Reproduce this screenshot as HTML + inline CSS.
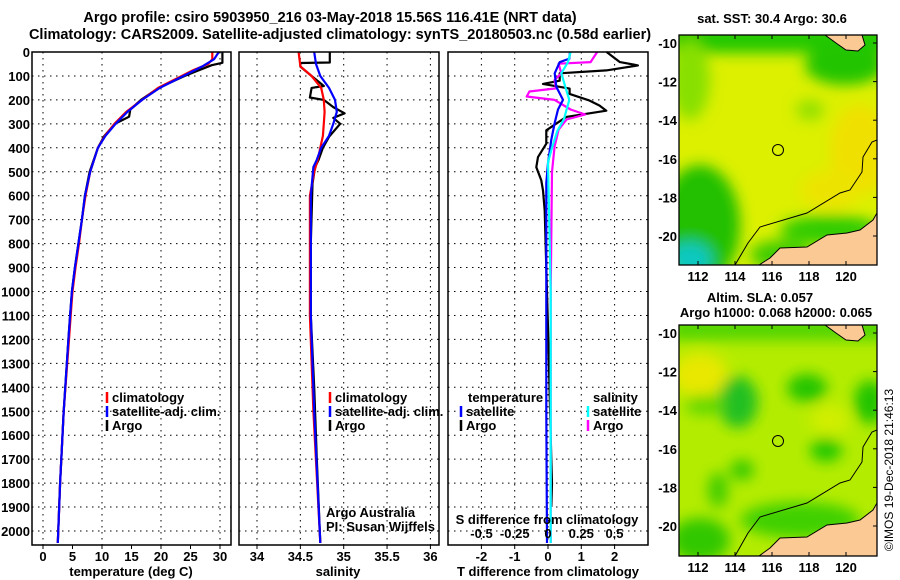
<!DOCTYPE html>
<html><head><meta charset="utf-8">
<style>
html,body{margin:0;padding:0;background:#fff;}
svg{display:block;font-family:"Liberation Sans",Arial,sans-serif;}
.t{font-weight:bold;font-size:13px;fill:#000;}
.tt{font-weight:bold;font-size:14.5px;fill:#000;}
.grid{stroke:#000;stroke-width:1;stroke-dasharray:1.5,4.5;}
</style></head><body>
<svg id="chart" width="900" height="580" viewBox="0 0 900 580" xmlns="http://www.w3.org/2000/svg">
<defs>
<filter id="blur6"><feGaussianBlur stdDeviation="7"/></filter>
<filter id="blur4"><feGaussianBlur stdDeviation="4"/></filter>
<clipPath id="clipTop"><rect x="679" y="35" width="198" height="230"/></clipPath>
<clipPath id="clipBot"><rect x="679" y="325" width="198" height="231"/></clipPath>
</defs>
<text class="tt" x="330" y="22" text-anchor="middle">Argo profile: csiro 5903950_216 03-May-2018 15.56S 116.41E (NRT data)</text>
<text class="tt" x="340" y="39" text-anchor="middle">Climatology: CARS2009. Satellite-adjusted climatology: synTS_20180503.nc (0.58d earlier)</text>

<g id="panels"></g>

<!-- top map -->
<g>
 <g clip-path="url(#clipTop)">
  <rect x="679" y="35" width="198" height="230" fill="#dcf000"/>
  <g filter="url(#blur6)">
   <rect x="670" y="25" width="220" height="28" fill="#22c800"/>
   <ellipse cx="845" cy="65" rx="40" ry="20" fill="#20c400"/>
   <ellipse cx="690" cy="80" rx="20" ry="40" fill="#88e000"/>
   <ellipse cx="700" cy="225" rx="40" ry="60" fill="#20c000"/>
   <ellipse cx="690" cy="260" rx="22" ry="18" fill="#10c8c0"/>
   <ellipse cx="860" cy="150" rx="30" ry="45" fill="#f0e000"/>
   <ellipse cx="830" cy="190" rx="30" ry="20" fill="#ece400"/>
   <ellipse cx="810" cy="110" rx="14" ry="10" fill="#90e000"/>
   <ellipse cx="830" cy="230" rx="50" ry="15" fill="#30cc00"/>
   <ellipse cx="780" cy="255" rx="30" ry="15" fill="#40cc00"/>
  </g>
  <polygon points="759,265 770,258 780,248 807,247 827,235 847,233 860,230 873,220 877,213 877,270 759,270" fill="#fbc993" stroke="#000" stroke-width="1"/>
  <polygon points="825,35 862,35 865,45 858,51 846,50 836,43" fill="#fbc993" stroke="#000" stroke-width="1"/>
  <polyline points="735,265 748,243 760,227 807,213 840,193 850,190 862,172 863,157 872,142 877,140" fill="none" stroke="#000" stroke-width="1"/>
 </g>
 <rect x="679" y="35" width="198" height="230" fill="none" stroke="#000" stroke-width="1.3"/>
 <circle cx="778" cy="150" r="5.5" fill="none" stroke="#000" stroke-width="1"/>
 <text class="t" x="772" y="23" text-anchor="middle">sat. SST: 30.4 Argo: 30.6</text>
</g>
<!-- bottom map -->
<g>
 <g clip-path="url(#clipBot)">
  <rect x="679" y="325" width="198" height="231" fill="#b4ec00"/>
  <g filter="url(#blur6)">
   <rect x="670" y="318" width="220" height="22" fill="#50d400"/>
   <ellipse cx="700" cy="375" rx="28" ry="22" fill="#e8e800"/>
   <ellipse cx="738" cy="402" rx="20" ry="26" fill="#20c020"/>
   <ellipse cx="807" cy="388" rx="20" ry="14" fill="#22c400"/>
   <ellipse cx="870" cy="402" rx="16" ry="22" fill="#20c400"/>
   <ellipse cx="826" cy="450" rx="16" ry="12" fill="#22c800"/>
   <ellipse cx="705" cy="405" rx="20" ry="10" fill="#60d800"/>
   <ellipse cx="742" cy="470" rx="12" ry="10" fill="#30c800"/>
   <ellipse cx="718" cy="490" rx="10" ry="18" fill="#40cc00"/>
   <ellipse cx="700" cy="540" rx="30" ry="22" fill="#30c800"/>
   <ellipse cx="800" cy="520" rx="60" ry="18" fill="#40d000"/>
   <ellipse cx="830" cy="420" rx="20" ry="16" fill="#d0ee00"/>
  </g>
  <polygon points="759,556 770,548 780,538 807,537 827,525 847,523 860,520 873,510 877,503 877,560 759,560" fill="#fbc993" stroke="#000" stroke-width="1"/>
  <polygon points="825,325 862,325 865,335 858,341 846,340 836,333" fill="#fbc993" stroke="#000" stroke-width="1"/>
  <polyline points="735,556 748,533 760,517 807,503 840,483 850,480 862,462 863,447 872,432 877,430" fill="none" stroke="#000" stroke-width="1"/>
 </g>
 <rect x="679" y="325" width="198" height="231" fill="none" stroke="#000" stroke-width="1.3"/>
 <circle cx="778" cy="441" r="5.5" fill="none" stroke="#000" stroke-width="1"/>
 <text class="t" x="760" y="302" text-anchor="middle">Altim. SLA: 0.057</text>
 <text class="t" x="776" y="317" text-anchor="middle">Argo h1000: 0.068 h2000: 0.065</text>
</g>
<text x="893" y="470" font-size="12" text-anchor="middle" transform="rotate(-90 893 470)">©IMOS 19-Dec-2018 21:46:13</text>
<g id="maplabels"></g>
</svg>
<script>
// ---- data ----
const depthTicks=[0,100,200,300,400,500,600,700,800,900,1000,1100,1200,1300,1400,1500,1600,1700,1800,1900,2000];
const tempTicks=[0,5,10,15,20,25,30];
const salTicks=[34,34.5,35,35.5,36];
const salTickLabels=["34","34.5","35","35.5","36"];
const tdiffTicks=[-2,-1,0,1,2];
const sdiffTicks=[-0.5,-0.25,0,0.25,0.5];
const sdiffTickLabels=["-0.5","-0.25","0","0.25","0.5"];
const lonTicks=[112,114,116,118,120];
const latTicks=[-10,-12,-14,-16,-18,-20];

const tArgoDepth=[0,45,55,80,100,150,200,240,270,300,350,400,500,600,700,800,900,1000,1100,1200,1500,1800,2050];
const tArgo=[30.4,30.4,28.6,26,24,19.6,16.6,14.8,14.6,12.2,10.4,9.3,7.9,7.1,6.6,6.0,5.4,4.9,4.6,4.3,3.5,2.9,2.5];
const tClimDepth=[0,30,50,75,100,150,200,250,300,350,400,500,600,700,800,900,1000,1100,1200,1500,1800,2050];
const tClim=[28.7,28.7,28,25.5,23.5,19.5,16.8,14.1,12.1,10.5,9.3,8.0,7.2,6.6,6.1,5.5,5.0,4.7,4.4,3.5,2.9,2.5];
const tSatDepth=[0,30,60,100,150,200,250,300,350,400,500,600,700,800,900,1000,1100,1200,1500,1800,2050];
const tSat=[29.8,29,27,23.8,19.8,16.8,14.3,12.3,10.6,9.3,8.0,7.1,6.6,6.0,5.4,4.9,4.6,4.3,3.5,2.9,2.5];

const sArgoDepth=[0,44,46,61,100,142,150,190,200,230,256,275,300,354,400,450,480,550,800,1100,1400,1700,2050];
const sArgo=[34.84,34.84,34.5,34.5,34.63,34.77,34.63,34.61,34.77,34.88,35.01,34.88,34.96,34.83,34.76,34.71,34.67,34.64,34.62,34.62,34.66,34.69,34.73];
const sClimDepth=[0,60,100,150,200,250,300,350,400,450,500,600,1100,1500,2050];
const sClim=[34.48,34.5,34.63,34.74,34.77,34.78,34.77,34.76,34.73,34.7,34.66,34.61,34.61,34.65,34.73];
const sSatDepth=[0,50,100,150,200,250,300,350,400,450,480,600,1100,1500,2050];
const sSat=[34.66,34.68,34.73,34.83,34.9,34.92,34.88,34.83,34.74,34.69,34.65,34.62,34.62,34.66,34.73];

const dTArgoDepth=[0,42,56,77,89,120,133,153,175,203,224,245,271,299,327,383,439,481,536,578,662,900,1150,1700,1800,1900];
const dTArgo=[1.76,2.16,2.7,1.75,0.35,0.35,-0.15,0.65,0.65,1.25,1.55,1.75,0.55,0.25,-0.05,-0.05,-0.3,-0.35,-0.2,-0.15,-0.1,-0.05,0,0.1,0.12,0.1];
const dTSatDepth=[0,28,42,89,145,200,240,296,366,464,547,1000,1500,2050];
const dTSat=[0.66,0.64,0.35,0.2,0.25,0.45,0.3,0.2,0.1,0,-0.05,-0.05,-0.05,-0.03];
const dSArgoDepth=[0,42,49,89,117,152,165,186,200,240,261,282,324,394,500,1000,1500,2050];
const dSArgo=[0.37,0.32,0.08,0.1,0.05,0.06,-0.14,-0.16,0.05,0.17,0.28,0.14,0.08,0.05,0.03,0.02,0.02,0.02];
const dSSatDepth=[0,42,89,145,200,240,280,330,400,460,1000,1500,2050];
const dSSat=[0.17,0.15,0.1,0.13,0.16,0.14,0.12,0.07,0.03,0,0.02,0.02,0.02];

// ---- helpers ----
const NS="http://www.w3.org/2000/svg";
const root=document.getElementById('panels');
function mk(tag,attrs,parent){const e=document.createElementNS(NS,tag);for(const k in attrs)e.setAttribute(k,attrs[k]);(parent||root).appendChild(e);return e;}
function yD(d){return 52+d*0.2395;}
const TOP=52,BOT=545;
function xT(v){return 43+v*5.9;}
function xS(v){return 257+(v-34)*86.7;}
function xdT(v){return 548+v*33.3;}
function xdS(v){return 548+v*133;}

function panel(x0,x1,gridXs,name){
  const g=mk('g',{});
  
  
  depthTicks.slice(1).forEach(d=>{const l=mk('line',{x1:x0,x2:x1,y1:yD(d),y2:yD(d),class:'grid'},g);});
  gridXs.forEach(x=>{mk('line',{x1:x,x2:x,y1:TOP,y2:BOT,class:'grid'},g);});
  return g;
}
function frame(x0,x1,g){mk('rect',{x:x0,y:TOP,width:x1-x0,height:BOT-TOP,fill:'none',stroke:'#000','stroke-width':1.5},g);}
function series(g,depths,vals,fx,color,name){
  const pts=depths.map((d,i)=>fx(vals[i]).toFixed(1)+','+yD(d).toFixed(1)).join(' ');
  const p=mk('polyline',{points:pts,fill:'none',stroke:color,'stroke-width':2.2,'stroke-linejoin':'round'},g);
  
  
}
function text(g,x,y,s,anchor,cls,name,extra){
  const t=mk('text',Object.assign({x:x,y:y,'text-anchor':anchor||'start',class:cls||'t'},extra||{}),g);
  t.textContent=s;
  
  
  return t;
}
function legendItem(g,x,y,color,label,name){
  mk('line',{x1:x,x2:x,y1:y-10,y2:y+1,stroke:color,'stroke-width':2.5},g);
  text(g,x+5,y,label,'start','t',name);
}

// panel 1 temperature
const p1=panel(32,231,[0,10,20,30].map(xT),'temperature-panel');
series(p1,tArgoDepth,tArgo,xT,'#000','temperature-argo-line');
series(p1,tClimDepth,tClim,xT,'#f00','temperature-climatology-line');
series(p1,tSatDepth,tSat,xT,'#00f','temperature-satellite-line');
frame(32,231,p1);
depthTicks.forEach(d=>text(p1,30,yD(d)+5,String(d),'end','t','depth-tick-label'));
tempTicks.forEach(v=>{mk('line',{x1:xT(v),x2:xT(v),y1:BOT,y2:BOT+4,stroke:'#000'},p1);text(p1,xT(v),561,String(v),'middle','t','temperature-tick-label');});
text(p1,131,576,'temperature (deg C)','middle','t','temperature-axis-title');
legendItem(p1,107,402,'#f00','climatology','legend-climatology');
legendItem(p1,107,416,'#00f','satellite-adj. clim.','legend-satellite');
legendItem(p1,107,430,'#000','Argo','legend-argo');

// panel 2 salinity
const p2=panel(239,439,salTicks.map(xS),'salinity-panel');
series(p2,sArgoDepth,sArgo,xS,'#000','salinity-argo-line');
series(p2,sClimDepth,sClim,xS,'#f00','salinity-climatology-line');
series(p2,sSatDepth,sSat,xS,'#00f','salinity-satellite-line');
frame(239,439,p2);
salTicks.forEach((v,i)=>{mk('line',{x1:xS(v),x2:xS(v),y1:BOT,y2:BOT+4,stroke:'#000'},p2);text(p2,xS(v),561,salTickLabels[i],'middle','t','salinity-tick-label');});
text(p2,338,576,'salinity','middle','t','salinity-axis-title');
legendItem(p2,330,402,'#f00','climatology','legend-climatology');
legendItem(p2,330,416,'#00f','satellite-adj. clim.','legend-satellite');
legendItem(p2,330,430,'#000','Argo','legend-argo');
text(p2,326,517,'Argo Australia','start','','argo-australia-credit',{'font-size':12});
text(p2,326,531,'PI: Susan Wijffels','start','','pi-credit',{'font-size':12});

// panel 3 differences
const p3=panel(448,648,tdiffTicks.map(xdT),'difference-panel');
series(p3,dTArgoDepth,dTArgo,xdT,'#000','tdiff-argo-line');
series(p3,dSArgoDepth,dSArgo,xdS,'#f0f','sdiff-argo-line');
series(p3,dTSatDepth,dTSat,xdT,'#00f','tdiff-satellite-line');
series(p3,dSSatDepth,dSSat,xdS,'#0ff','sdiff-satellite-line');
frame(448,648,p3);
tdiffTicks.forEach(v=>{mk('line',{x1:xdT(v),x2:xdT(v),y1:BOT,y2:BOT+4,stroke:'#000'},p3);text(p3,xdT(v),561,String(v),'middle','t','tdiff-tick-label');});
text(p3,548,576,'T difference from climatology','middle','t','tdiff-axis-title');
text(p3,547,524,'S difference from climatology','middle','t','sdiff-axis-title');
sdiffTicks.forEach((v,i)=>text(p3,xdS(v),538,sdiffTickLabels[i],'middle','t','sdiff-tick-label'));
text(p3,468,402,'temperature','start','t','legend-temperature-header');
legendItem(p3,461,416,'#00f','satellite','legend-t-satellite');
legendItem(p3,461,430,'#000','Argo','legend-t-argo');
text(p3,593,402,'salinity','start','t','legend-salinity-header');
legendItem(p3,588,416,'#0ff','satellite','legend-s-satellite');
legendItem(p3,588,430,'#f0f','Argo','legend-s-argo');

// map axis labels
const ml=document.getElementById('maplabels');
[[35,265,43],[325,556,333]].forEach(([top,bot,y10])=>{
  latTicks.forEach(v=>{
    const y=y10+(-10-v)*19.3;
    text(ml,677,y+5,String(v),'end','t','latitude-tick-label');
    mk('line',{x1:877,x2:873,y1:y,y2:y,stroke:'#000'},ml);
  });
  lonTicks.forEach(v=>{
    const x=698+(v-112)*18.5;
    text(ml,x,bot+16,String(v),'middle','t','longitude-tick-label');
    mk('line',{x1:x,x2:x,y1:top,y2:top+4,stroke:'#000'},ml);
    mk('line',{x1:x,x2:x,y1:bot,y2:bot-4,stroke:'#000'},ml);
  });
});
</script>
</body></html>
